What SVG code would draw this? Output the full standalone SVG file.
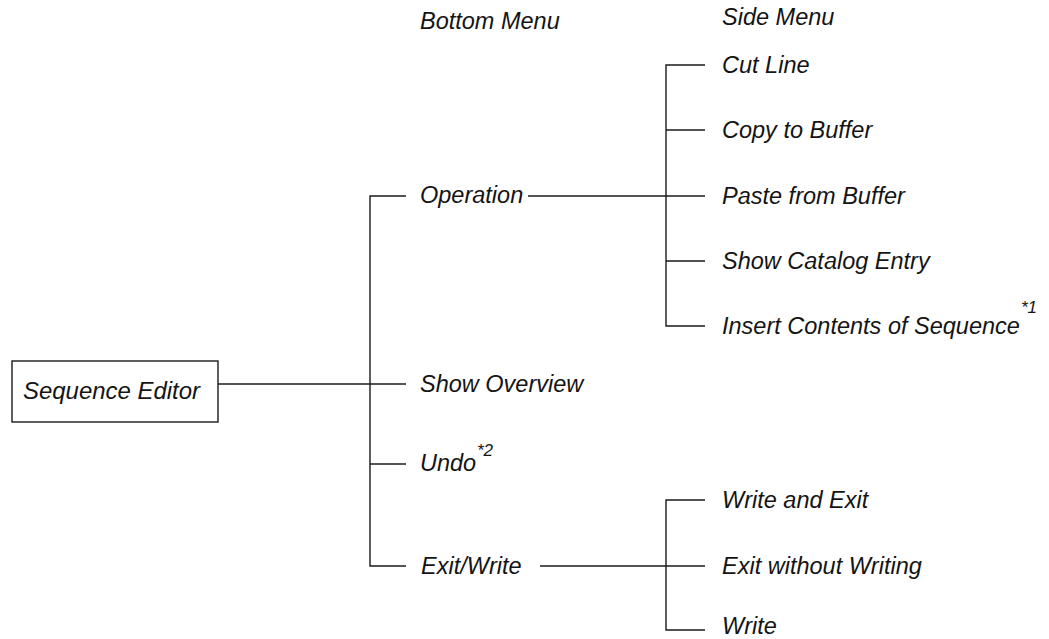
<svg xmlns="http://www.w3.org/2000/svg" width="1049" height="639" viewBox="0 0 1049 639">
<style>
text{font-family:"Liberation Sans",Arial,sans-serif;font-style:italic;font-size:23.5px;fill:#141414}
.sup{font-size:17px}
.ln{stroke:#1a1a1a;stroke-width:1.4;fill:none}
.box{stroke:#1a1a1a;stroke-width:1.4;fill:#fff}
</style>
<rect width="1049" height="639" fill="#fff"/>
<g id="headers">
<text x="420" y="29">Bottom Menu</text>
<text x="722" y="25">Side Menu</text>
</g>
<g id="connectors" class="ln">
<path d="M218 384H406"/>
<path d="M406 196H370V566H406"/>
<path d="M370 464H406"/>
<path d="M528 196H705"/>
<path d="M705 65H666V326H705"/>
<path d="M666 130H705M666 261H705"/>
<path d="M540 566H705"/>
<path d="M705 500H666V630H705"/>
</g>
<g id="seqeditor">
<rect class="box" x="12" y="361" width="206" height="61"/>
<text x="23" y="399" textLength="177" lengthAdjust="spacingAndGlyphs">Sequence Editor</text>
</g>
<g id="operation"><text x="420" y="203">Operation</text></g>
<g id="showoverview"><text x="420" y="392">Show Overview</text></g>
<g id="undo"><text x="420" y="471">Undo</text><text class="sup" x="477" y="456">*2</text></g>
<g id="exitwrite"><text x="421" y="574">Exit/Write</text></g>
<g id="cutline"><text x="722" y="73">Cut Line</text></g>
<g id="copy"><text x="722" y="138">Copy to Buffer</text></g>
<g id="paste"><text x="722" y="204">Paste from Buffer</text></g>
<g id="catalog"><text x="722" y="269">Show Catalog Entry</text></g>
<g id="insert"><text x="722" y="334">Insert Contents of Sequence</text><text class="sup" x="1021" y="313">*1</text></g>
<g id="writeexit"><text x="722" y="508">Write and Exit</text></g>
<g id="exitnowrite"><text x="722" y="574">Exit without Writing</text></g>
<g id="write"><text x="722" y="634">Write</text></g>
</svg>
